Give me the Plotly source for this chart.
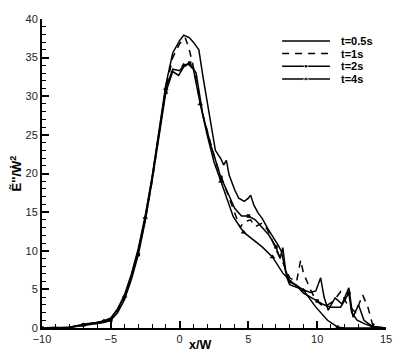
import plotly.graph_objs as go

# t=0.5s (solid)
x05 = [-10, -9, -8, -7.5, -7, -6.5, -6, -5.5, -5, -4.5, -4, -3.5, -3, -2.5, -2,
       -1.5, -1, -0.5, 0, 0.3, 0.7, 1.0, 1.4, 1.7, 2.0, 2.3, 2.6, 3.0, 3.2, 3.4,
       3.6, 4.0, 4.3, 4.7, 5.0, 5.16, 5.4, 5.7, 6.0, 6.4, 6.9, 7.2, 7.4, 7.6, 7.8,
       8.0, 8.5, 9.0, 9.5, 9.9, 10.25, 10.5, 10.8, 11.3, 11.8, 12.3, 12.6, 13.0,
       13.4, 14.0, 15.0]
y05 = [0, 0, 0.1, 0.3, 0.5, 0.6, 0.7, 0.9, 1.3, 2.5, 4.3, 7.0, 10.3, 14.5, 19.5,
       25.5, 31.5, 35.6, 37.2, 37.9, 37.6, 37.0, 36.0, 32.5, 29.5, 26.0, 23.0, 21.9, 21.1, 21.7,
       19.8, 17.9, 16.8, 16.4, 16.8, 17.2, 15.9, 14.9, 14.2, 12.9, 11.5, 10.6, 9.9, 8.0, 6.5,
       5.6, 5.3, 5.0, 4.6, 4.8, 6.5, 4.0, 2.3, 3.9, 3.1, 5.2, 1.4, 3.0,
       1.0, 0.2, 0]

# t=1s (dashed)
x1 = [-9, -8, -7, -6.5, -6, -5.5, -5, -4.5, -4, -3.5, -3, -2.5, -2, -1.5, -1,
      -0.5, 0, 0.4, 0.65, 0.94, 1.3, 1.67, 2.25, 2.76, 3.3, 3.85, 4.4, 4.65, 5.16, 5.5,
      6.0, 6.4, 7.1, 7.5, 8.0, 8.5, 8.8, 9.0, 9.5, 9.9, 10.5, 11.2, 11.7, 12.2, 12.8,
      13.3, 13.7, 14.0, 14.5, 15.0]
y1 = [0, 0.1, 0.4, 0.5, 0.6, 0.8, 1.1, 2.2, 3.9, 6.5, 9.8, 14.0, 19.0, 25.0, 31.0,
      35.0, 36.8, 37.6, 36.4, 34.3, 31.0, 27.8, 23.9, 20.8, 18.3, 15.7, 13.0, 13.7, 14.0, 13.1,
      13.6, 12.7, 9.8, 8.5, 6.5, 6.0, 8.8, 7.1, 5.0, 3.6, 2.7, 3.5, 4.7, 3.0, 2.0,
      4.3, 2.6, 0.6, 0, 0]

# t=2s (solid, square symbols)
x2 = [-10, -9, -8.3, -7.5, -7, -6.5, -6, -5.5, -5, -4.5, -4, -3.5, -3, -2.5, -2,
      -1.5, -1, -0.5, -0.07, 0.3, 0.73, 1.2, 1.7, 2.3, 3.0, 3.5, 4.0, 4.5, 5.0, 5.5,
      6.0, 6.5, 7.0, 7.3, 7.5, 7.7, 8.0, 8.5, 9.0, 9.5, 10.0, 10.5, 11.0, 11.7, 12.3,
      12.5, 12.9, 13.5, 14.0, 15.0]
y2 = [0, 0.1, 0, 0.2, 0.4, 0.5, 0.6, 0.7, 1.0, 2.0, 3.7, 6.3, 9.5, 13.8, 19.0,
      25.0, 30.5, 33.2, 32.7, 33.8, 34.3, 33.0, 27.5, 23.5, 19.5, 17.5, 15.5, 14.5, 14.5, 14.0,
      13.0, 12.0, 10.5, 9.0, 10.4, 7.5, 6.0, 5.5, 4.5, 4.0, 3.5, 3.0, 2.7, 2.7, 4.5,
      2.0, 1.0, 0.5, 0.2, 0]

# t=4s (solid, triangle symbols)
x4 = [-9, -8, -7, -6.5, -6, -5.5, -5, -4.5, -4, -3.5, -3, -2.5, -2, -1.5, -1,
      -0.5, 0, 0.3, 0.6, 1.0, 1.5, 2.0, 2.5, 3.0, 3.5, 3.9, 4.65, 5.4, 6.0, 6.75,
      7.5, 8.1, 9.0, 9.9, 10.75, 11.5, 12.0, 15.0]
y4 = [0, 0.1, 0.4, 0.6, 0.7, 0.9, 1.2, 2.4, 4.1, 6.8, 10.0, 14.3, 19.5, 25.5, 31.0,
      33.5, 33.3, 34.0, 34.2, 33.5, 29.0, 25.0, 21.5, 19.0, 16.5, 14.4, 12.4, 11.4, 10.5, 9.2,
      7.1, 6.0, 4.9, 2.7, 1.0, 0.1, 0, 0]

names = ["t=0.5s", "t=1s", "t=2s", "t=4s"]
dashes = ["solid", "7px,6px", "solid", "solid"]
symbols = [None, None, "square", "triangle-up"]
sizes = [0, 0, 3.5, 5]

series = [(x05, y05), (x1, y1), (x2, y2), (x4, y4)]

fig = go.Figure()
for (xs, ys), name, dash, sym, sz in zip(series, names, dashes, symbols, sizes):
    mode = "lines+markers" if sym else "lines"
    fig.add_trace(go.Scatter(
        x=xs, y=ys, mode=mode, name=name, showlegend=False,
        line=dict(color="black", width=1.5, dash=dash),
        marker=dict(symbol=sym or "circle", size=sz, color="black", maxdisplayed=16),
    ))

# hand-drawn legend on an overlay axis (0..1 of the plot area)
leg_x0, leg_x1, leg_text_x = 0.698, 0.837, 0.862
leg_rows = [0.929, 0.888, 0.847, 0.806]
for name, dash, sym, sz, ry in zip(names, dashes, symbols, sizes, leg_rows):
    fig.add_trace(go.Scatter(
        x=[leg_x0, (leg_x0 + leg_x1) / 2, leg_x1], y=[ry, ry, ry],
        xaxis="x2", yaxis="y2", showlegend=False, hoverinfo="skip",
        mode="lines+markers" if sym else "lines",
        line=dict(color="black", width=1.5, dash=dash),
        marker=dict(symbol=sym or "circle", size=[0, sz, 0], color="black"),
    ))
    fig.add_annotation(x=leg_text_x, y=ry, xref="paper", yref="paper", text="<b>%s</b>" % name,
                       showarrow=False, xanchor="left", yanchor="middle",
                       font=dict(family="Liberation Sans", size=11, color="black"))

fig.add_annotation(x=0.46, y=-0.056, xref="paper", yref="paper", text="<b>x/W</b>",
                   showarrow=False, xanchor="center", yanchor="middle",
                   font=dict(family="Liberation Sans", size=12.5, color="black"))

axis_common = dict(
    showgrid=False, zeroline=False, showline=True, linecolor="black", linewidth=2,
    ticks="inside", ticklen=7, tickwidth=2, tickcolor="black",
    tickfont=dict(family="Liberation Sans", size=11, color="#222"),
    mirror=False, automargin=False,
)

# page body has an 8px margin, so the figure is sized to sit inside the window
fig.update_layout(
    width=391, height=346,
    margin=dict(l=34, r=13, t=11, b=26),
    plot_bgcolor="white", paper_bgcolor="white",
    showlegend=False,
    xaxis=dict(range=[-10, 15], dtick=5, tick0=0,
               minor=dict(dtick=1, ticks="inside", ticklen=4, tickwidth=1, tickcolor="black"),
               **axis_common),
    yaxis=dict(range=[0, 40], dtick=5, tick0=0,
               minor=dict(dtick=1, ticks="inside", ticklen=4, tickwidth=1, tickcolor="black"),
               title=dict(text="<b>Ẽ''/Ẇ<sup>2</sup></b>", standoff=14,
                          font=dict(family="Liberation Sans", size=13, color="black")),
               **axis_common),
    xaxis2=dict(overlaying="x", range=[0, 1], visible=False),
    yaxis2=dict(overlaying="y", range=[0, 1], visible=False),
)

fig.write_html("out.html")
